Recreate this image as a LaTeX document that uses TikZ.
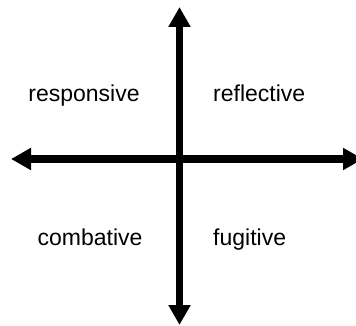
\documentclass[tikz,border=0pt]{standalone}
\usepackage{fontspec}
\setmainfont{Liberation Sans}
\usetikzlibrary{arrows.meta}
\tikzset{
  axis/.style={line width=7pt, {Triangle[length=20pt,width=21pt]}-{Triangle[length=20pt,width=21pt]}},
  lbl/.style={inner sep=0pt, font=\fontsize{23pt}{27pt}\selectfont}
}
\begin{document}
\begin{tikzpicture}[x=1pt,y=1pt]
  \useasboundingbox (0,0) rectangle (356,-326);
  \clip (0,0) rectangle (356,-326);
  \fill[white] (0,0) rectangle (356,-326);
  \coordinate (top) at (179.5,-7);
  \coordinate (bottom) at (179.5,-325);
  \coordinate (left) at (11,-159);
  \coordinate (right) at (363,-159);
  \draw[axis] (top) -- (bottom);
  \draw[axis] (left) -- (right);
  \node[lbl, anchor=base] (resp) at (84,-102) {responsive};
  \node[lbl, anchor=base west] (refl) at (213,-102) {reflective};
  \node[lbl, anchor=base] (comb) at (90,-245) {combative};
  \node[lbl, anchor=base west] (fug) at (213,-245) {fugitive};
\end{tikzpicture}
\end{document}
